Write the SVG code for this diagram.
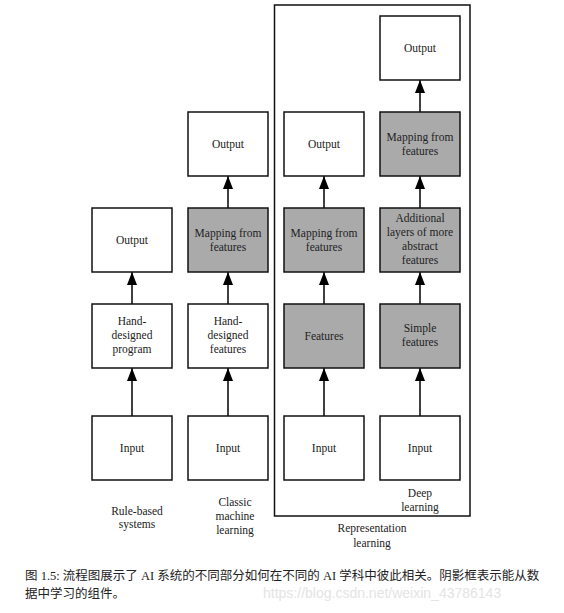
<svg xmlns="http://www.w3.org/2000/svg" width="564" height="613" viewBox="0 0 564 613">
<style>
.b{fill:#fff;stroke:#111;stroke-width:1.5}
.g{fill:#aaaaaa;stroke:#111;stroke-width:1.5}
.t{font-family:'Liberation Serif','DejaVu Serif',serif;font-size:11.5px;fill:#222;text-anchor:middle}
.c{stroke:#000;stroke-width:1.5;fill:none}
.cap{font-family:'Liberation Serif','Noto Sans CJK SC',serif;font-size:12.5px;fill:#222}
</style>
<defs>
<marker id="ah" markerWidth="13" markerHeight="10" refX="13" refY="5" orient="auto" markerUnits="userSpaceOnUse" viewBox="0 0 13 10">
<path d="M0,0 L13,5 L0,10 Z" fill="#000"/>
</marker>
</defs>
<rect x="274.5" y="5" width="195.5" height="511" fill="none" stroke="#111" stroke-width="1.5"/>
<g id="connectors">
<path class="c" d="M132,416 V368" marker-end="url(#ah)"/>
<path class="c" d="M132,304 V272" marker-end="url(#ah)"/>
<path class="c" d="M228,416 V368" marker-end="url(#ah)"/>
<path class="c" d="M228,304 V272" marker-end="url(#ah)"/>
<path class="c" d="M228,208 V176" marker-end="url(#ah)"/>
<path class="c" d="M324,416 V368" marker-end="url(#ah)"/>
<path class="c" d="M324,304 V272" marker-end="url(#ah)"/>
<path class="c" d="M324,208 V176" marker-end="url(#ah)"/>
<path class="c" d="M420,416 V368" marker-end="url(#ah)"/>
<path class="c" d="M420,304 V272" marker-end="url(#ah)"/>
<path class="c" d="M420,208 V176" marker-end="url(#ah)"/>
<path class="c" d="M420,112 V80" marker-end="url(#ah)"/>
</g>
<g id="c1-input"><rect class="b" x="92" y="416" width="80" height="64"/><text class="t" x="132" y="452">Input</text></g>
<g id="c1-program"><rect class="b" x="92" y="304" width="80" height="64"/><text class="t" x="132" y="325">Hand-</text><text class="t" x="132" y="339">designed</text><text class="t" x="132" y="353">program</text></g>
<g id="c1-output"><rect class="b" x="92" y="208" width="80" height="64"/><text class="t" x="132" y="244">Output</text></g>
<g id="c2-input"><rect class="b" x="188" y="416" width="80" height="64"/><text class="t" x="228" y="452">Input</text></g>
<g id="c2-features"><rect class="b" x="188" y="304" width="80" height="64"/><text class="t" x="228" y="325">Hand-</text><text class="t" x="228" y="339">designed</text><text class="t" x="228" y="353">features</text></g>
<g id="c2-mapping"><rect class="g" x="188" y="208" width="80" height="64"/><text class="t" x="228" y="237">Mapping from</text><text class="t" x="228" y="251">features</text></g>
<g id="c2-output"><rect class="b" x="188" y="112" width="80" height="64"/><text class="t" x="228" y="148">Output</text></g>
<g id="c3-input"><rect class="b" x="284" y="416" width="80" height="64"/><text class="t" x="324" y="452">Input</text></g>
<g id="c3-features"><rect class="g" x="284" y="304" width="80" height="64"/><text class="t" x="324" y="340">Features</text></g>
<g id="c3-mapping"><rect class="g" x="284" y="208" width="80" height="64"/><text class="t" x="324" y="237">Mapping from</text><text class="t" x="324" y="251">features</text></g>
<g id="c3-output"><rect class="b" x="284" y="112" width="80" height="64"/><text class="t" x="324" y="148">Output</text></g>
<g id="c4-input"><rect class="b" x="380" y="416" width="80" height="64"/><text class="t" x="420" y="452">Input</text></g>
<g id="c4-simple"><rect class="g" x="380" y="304" width="80" height="64"/><text class="t" x="420" y="332">Simple</text><text class="t" x="420" y="346">features</text></g>
<g id="c4-additional"><rect class="g" x="380" y="208" width="80" height="64"/><text class="t" x="420" y="222">Additional</text><text class="t" x="420" y="236">layers of more</text><text class="t" x="420" y="250">abstract</text><text class="t" x="420" y="264">features</text></g>
<g id="c4-mapping"><rect class="g" x="380" y="112" width="80" height="64"/><text class="t" x="420" y="141">Mapping from</text><text class="t" x="420" y="155">features</text></g>
<g id="c4-output"><rect class="b" x="380" y="16" width="80" height="64"/><text class="t" x="420" y="52">Output</text></g>
<g id="labels">
<text class="t" x="137" y="515">Rule-based</text><text class="t" x="137" y="528">systems</text>
<text class="t" x="235" y="506">Classic</text><text class="t" x="235" y="520">machine</text><text class="t" x="235" y="534">learning</text>
<text class="t" x="420" y="497">Deep</text><text class="t" x="420" y="511">learning</text>
<text class="t" x="372" y="532">Representation</text><text class="t" x="372" y="547">learning</text>
</g>
<g id="caption">
<text class="cap" x="25" y="580">图 1.5: 流程图展示了 AI 系统的不同部分如何在不同的 AI 学科中彼此相关。阴影框表示能从数</text>
<text class="cap" x="25" y="598">据中学习的组件。</text>
<text x="263" y="598" font-family="'Liberation Sans',sans-serif" font-size="14" fill="#e4e4e4">https://blog.csdn.net/weixin_43786143</text>
</g>
</svg>
